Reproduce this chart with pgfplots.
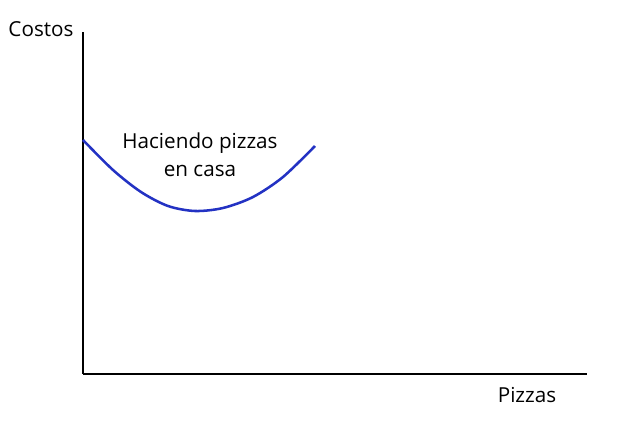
\documentclass[border=0pt]{standalone}
\usepackage{pgfplots}
\pgfplotsset{compat=1.18}
\usepackage{fontspec}
\setmainfont{Open Sans}
\definecolor{curveblue}{RGB}{35,50,195}
\begin{document}
\begin{tikzpicture}[x=0.75pt,y=0.75pt]
\useasboundingbox (-62.25pt,-40.5pt) rectangle (404.25pt,280.5pt);
\begin{axis}[
  at={(0,0)}, anchor=origin,
  scale only axis, width=378pt, height=256.5pt,
  xmin=0, xmax=504, ymin=0, ymax=342,
  axis lines=left, axis line style={line width=1.8pt,-},
  xtick=\empty, ytick=\empty,
  clip=false,
]
\addplot[curveblue, line width=1.9pt, smooth, tension=0.5] coordinates {
(0,234) (30,204) (58,182) (85,168) (112,163) (140,166) (170,177) (200,197) (232,228)
};
\node[font=\fontsize{15.5}{18}\selectfont] at (axis cs:117,231) {Haciendo pizzas};
\node[font=\fontsize{15.5}{18}\selectfont] at (axis cs:117,203) {en casa};
\node[font=\fontsize{15.5}{18}\selectfont] at (axis cs:-42,345) {Costos};
\node[font=\fontsize{15.5}{18}\selectfont] at (axis cs:444,-21) {Pizzas};
\end{axis}
\end{tikzpicture}
\end{document}
